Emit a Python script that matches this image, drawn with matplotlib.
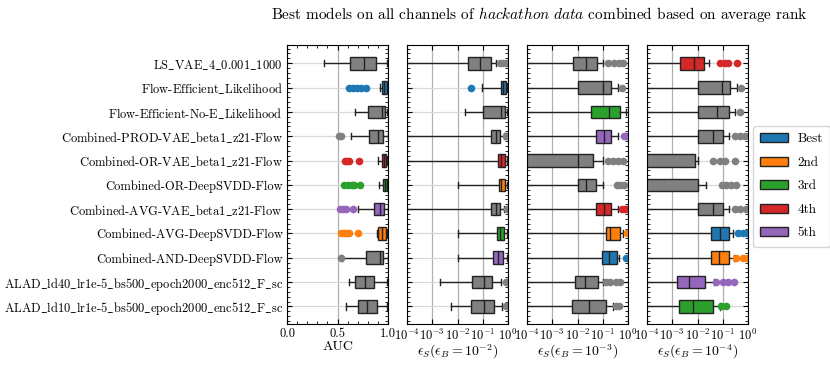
import matplotlib
matplotlib.use("Agg")
import matplotlib.pyplot as plt
from matplotlib.patches import Patch
from matplotlib.ticker import AutoMinorLocator, NullLocator

plt.rcParams['font.family'] = ['cmr10', 'DejaVu Serif']
plt.rcParams['mathtext.fontset'] = 'cm'
plt.rcParams['axes.formatter.use_mathtext'] = True
plt.rcParams['font.size'] = 9

models = ["LS_VAE_4_0.001_1000",
          "Flow-Efficient_Likelihood",
          "Flow-Efficient-No-E_Likelihood",
          "Combined-PROD-VAE_beta1_z21-Flow",
          "Combined-OR-VAE_beta1_z21-Flow",
          "Combined-OR-DeepSVDD-Flow",
          "Combined-AVG-VAE_beta1_z21-Flow",
          "Combined-AVG-DeepSVDD-Flow",
          "Combined-AND-DeepSVDD-Flow",
          "ALAD_ld40_lr1e-5_bs500_epoch2000_enc512_F_sc",
          "ALAD_ld10_lr1e-5_bs500_epoch2000_enc512_F_sc"]

rank_names = ["Best", "2nd", "3rd", "4th", "5th"]
rank_colors = ["tab:blue", "tab:orange", "tab:green", "tab:red", "tab:purple"]
other_color = "#808080"

LOW = 1e-6  # below axis limit (whisker / box runs off the left edge)

# AUC panel
auc_whislo = [0.363, 0.92, 0.67, 0.63, 0.897, 0.907, 0.707, 0.887, 0.547, 0.617, 0.587]
auc_q1     = [0.62, 0.94, 0.80, 0.813, 0.94, 0.947, 0.857, 0.903, 0.787, 0.67, 0.703]
auc_med    = [0.763, 0.965, 0.937, 0.903, 0.963, 0.967, 0.923, 0.94, 0.917, 0.773, 0.79]
auc_q3     = [0.88, 0.99, 0.973, 0.953, 0.983, 0.987, 0.957, 0.983, 0.953, 0.857, 0.893]
auc_whishi = [0.99, 0.997, 0.99, 0.997, 0.993, 0.993, 0.997, 0.99, 0.997, 0.99, 0.99]
auc_fliers = [[], [0.615, 0.65, 0.69, 0.73, 0.78], [], [0.515, 0.53],
              [0.57, 0.59, 0.61, 0.715], [0.565, 0.6, 0.64, 0.66, 0.72],
              [0.52, 0.55, 0.58, 0.655], [0.53, 0.56, 0.59, 0.615, 0.70],
              [0.53], [], []]
auc_rank = [0, 1, 0, 0, 4, 3, 5, 2, 0, 0, 0]

# eps_S at eps_B = 1e-2
e2_whislo = [LOW, 0.093, 0.02, LOW, LOW, 0.0102, LOW, 0.01, 0.01, 0.0021, 0.0054]
e2_q1     = [0.025, 0.54, 0.10, 0.21, 0.41, 0.44, 0.21, 0.37, 0.26, 0.036, 0.033]
e2_med    = [0.076, 0.65, 0.51, 0.32, 0.54, 0.54, 0.34, 0.48, 0.40, 0.11, 0.117]
e2_q3     = [0.215, 0.85, 0.76, 0.47, 0.76, 0.76, 0.48, 0.69, 0.62, 0.23, 0.28]
e2_whishi = [0.32, 0.93, 0.93, 0.69, 0.89, 0.89, 0.70, 0.89, 0.93, 0.51, 0.59]
e2_fliers = [[0.5, 0.63, 0.8, 1.0], [0.034], [], [0.85, 0.95], [], [],
             [0.9, 0.98], [], [], [0.8, 0.95], [0.8, 0.95]]
e2_rank = [0, 1, 0, 0, 4, 2, 0, 3, 5, 0, 0]

# eps_S at eps_B = 1e-3
e3_whislo = [LOW] * 11
e3_q1     = [0.0065, 0.0102, 0.034, 0.052, LOW, 0.0102, 0.054, 0.135, 0.091, 0.0078, 0.0059]
e3_med    = [0.022, 0.098, 0.17, 0.11, 0.0107, 0.022, 0.11, 0.19, 0.17, 0.019, 0.028]
e3_q3     = [0.058, 0.21, 0.48, 0.21, 0.04, 0.054, 0.21, 0.47, 0.37, 0.063, 0.13]
e3_whishi = [0.098, 0.40, 0.83, 0.41, 0.098, 0.098, 0.41, 0.62, 0.45, 0.098, 0.25]
e3_fliers = [[0.16, 0.27, 0.44, 0.63], [0.56], [], [0.69, 0.8, 0.9],
             [0.16, 0.25, 0.4, 0.63], [0.37, 0.5, 0.69], [0.59, 0.79, 0.93],
             [0.9], [0.83], [0.14, 0.2, 0.32, 0.5], [0.32, 0.45]]
e3_rank = [0, 0, 3, 5, 0, 0, 4, 2, 1, 0, 0]

# eps_S at eps_B = 1e-4
e4_whislo = [LOW] * 11
e4_q1     = [0.0021, 0.0107, 0.0107, 0.0107, LOW, LOW, 0.0107, 0.034, 0.034, 0.0016, 0.0019]
e4_med    = [0.0076, 0.093, 0.059, 0.041, LOW, LOW, 0.041, 0.076, 0.069, 0.0048, 0.0065]
e4_q3     = [0.018, 0.195, 0.17, 0.102, 0.0078, 0.0107, 0.102, 0.18, 0.17, 0.019, 0.041]
e4_whishi = [0.028, 0.37, 0.30, 0.17, 0.01, 0.021, 0.17, 0.25, 0.28, 0.044, 0.076]
e4_fliers = [[0.076, 0.12, 0.16, 0.37], [0.52], [0.49], [0.3, 0.5, 0.76],
             [0.041, 0.079, 0.126, 0.3], [0.09, 0.14, 0.22, 0.33],
             [0.3, 0.5, 0.83], [0.41, 0.63, 0.93], [0.35, 0.63, 0.93],
             [0.056, 0.1, 0.16, 0.28], [0.089, 0.14]]
e4_rank = [4, 0, 0, 0, 0, 0, 0, 1, 2, 5, 3]

panels = [
    (auc_whislo, auc_q1, auc_med, auc_q3, auc_whishi, auc_fliers, auc_rank, "AUC", False),
    (e2_whislo, e2_q1, e2_med, e2_q3, e2_whishi, e2_fliers, e2_rank, r"$\epsilon_S(\epsilon_B=10^{-2})$", True),
    (e3_whislo, e3_q1, e3_med, e3_q3, e3_whishi, e3_fliers, e3_rank, r"$\epsilon_S(\epsilon_B=10^{-3})$", True),
    (e4_whislo, e4_q1, e4_med, e4_q3, e4_whishi, e4_fliers, e4_rank, r"$\epsilon_S(\epsilon_B=10^{-4})$", True),
]

# cmr10 has no underscore glyph -> use the mathtext escape
ylabels = [m.replace("_", r"$\_$") for m in models]

fig = plt.figure(figsize=(8.3, 3.68), dpi=100)
lefts = [287, 407, 527, 647]
bottom = 1 - 324 / 368
height = 279.3 / 368

for i, (wlo, q1, med, q3, whi, fl, rank, xlabel, logx) in enumerate(panels):
    ax = fig.add_axes([lefts[i] / 830, bottom, 101 / 830, height])
    if logx:
        ax.set_xscale('log')
    ax.grid(axis='x', color='#b0b0b0', lw=0.9, zorder=0)
    ax.grid(axis='y', color='#d8d8d8', lw=0.9, zorder=0)
    ax.set_axisbelow(True)
    for j in range(len(models)):
        c = rank_colors[rank[j] - 1] if rank[j] else other_color
        stats = [dict(whislo=wlo[j], q1=q1[j], med=med[j], q3=q3[j],
                      whishi=whi[j], fliers=fl[j])]
        ax.bxp(stats, positions=[j], widths=0.52, vert=False, patch_artist=True,
               boxprops=dict(facecolor=c, edgecolor='#222222', lw=1.0),
               medianprops=dict(color='#222222', lw=1.0),
               whiskerprops=dict(color='#222222', lw=1.0),
               capprops=dict(color='#222222', lw=1.0),
               flierprops=dict(marker='o', markerfacecolor=c, markeredgecolor='none',
                               markersize=5.5))
    ax.set_ylim(10.72, -0.76)
    ax.set_yticks(range(len(models)))
    if i == 0:
        ax.set_yticklabels(ylabels)
        ax.set_xlim(0, 1)
        ax.set_xticks([0, 0.5, 1.0])
        ax.set_xticklabels(["0.0", "0.5", "1.0"])
        ax.xaxis.set_minor_locator(AutoMinorLocator(5))
    else:
        ax.set_yticklabels([])
        ax.set_xlim(1e-4, 1)
        ax.set_xticks([1e-4, 1e-3, 1e-2, 1e-1, 1])
        ax.xaxis.set_minor_locator(NullLocator())
    ax.yaxis.set_minor_locator(AutoMinorLocator(5))
    ax.tick_params(which='both', direction='in', top=True, right=True, labelsize=9)
    ax.tick_params(which='major', length=3.5, pad=3)
    ax.tick_params(which='minor', length=2)
    ax.set_xlabel(xlabel, fontsize=10)
    ax.xaxis.label.set_va('center')
    ax.xaxis.set_label_coords(0.5, -0.082 if i == 0 else -0.1)

handles = [Patch(facecolor=c, edgecolor='#222222', label=n)
           for c, n in zip(rank_colors, rank_names)]
fig.legend(handles=handles, loc='upper left', bbox_to_anchor=(753 / 830, 1 - 126 / 368),
           borderaxespad=0, frameon=True, fancybox=True, edgecolor='#cccccc',
           handlelength=2.1, handleheight=0.7, borderpad=0.55, labelspacing=0.85,
           handletextpad=0.75, fontsize=9.5)

fig.text(539 / 830, 1 - 14 / 368,
         r"Best models on all channels of $\mathit{hackathon\ data}$ combined based on average rank",
         ha='center', va='center', fontsize=11)

fig.savefig("out.png", dpi=100)
